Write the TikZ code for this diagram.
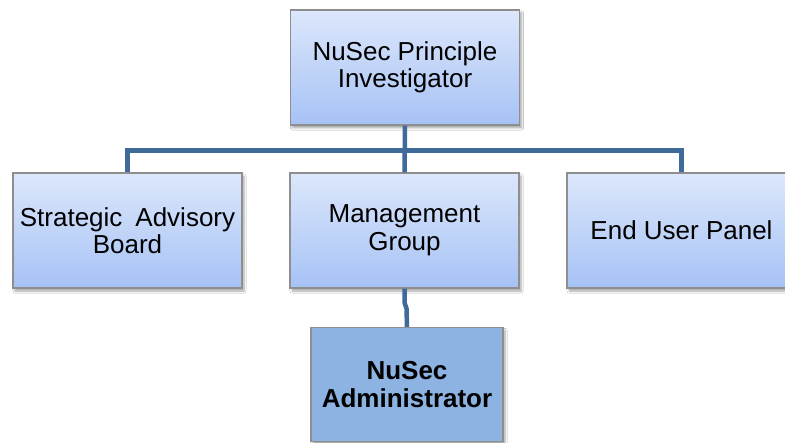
\documentclass[tikz,border=0pt]{standalone}
\usepackage{fontspec}
\setmainfont{Liberation Sans}
\usetikzlibrary{shadows.blur}
\definecolor{boxtop}{HTML}{DCE7FB}
\definecolor{boxbottom}{HTML}{A6C2F5}
\definecolor{boxedge}{HTML}{8E8E8E}
\definecolor{adminfill}{HTML}{8DB3E2}
\definecolor{linkblue}{HTML}{3F6A9A}
\begin{document}
\begin{tikzpicture}[x=1pt,y=1pt,
  orgbox/.style={draw=boxedge, line width=1.2pt, top color=boxtop, bottom color=boxbottom,
    minimum width=229pt, minimum height=115pt, inner sep=0pt, align=center,
    font=\fontsize{26}{27.5}\selectfont,
    blur shadow={shadow xshift=2pt, shadow yshift=-3pt, shadow blur steps=6, shadow opacity=35}},
  adminbox/.style={orgbox, top color=adminfill, bottom color=adminfill,
    minimum width=192pt, minimum height=114pt, font=\fontsize{26}{27.5}\selectfont\bfseries},
  link/.style={draw=linkblue, line width=4.5pt, line join=miter}]
\clip (0,0) rectangle (785,-443);
\fill[white] (0,0) rectangle (785,-443);

\node[orgbox] (pi)  at (405,-67.5)   {NuSec Principle\\Investigator};
\node[orgbox] (sab) at (127.5,-230.5) {Strategic\hspace{13pt}Advisory\\Board};
\node[orgbox] (mg)  at (404.5,-230.5) {Management\\Group};
\node[orgbox] (eup) at (681.5,-230.5) {End User Panel};
\node[adminbox] (adm) at (407,-384.5) {NuSec\\Administrator};

% reporting lines
\draw[link] (sab.north) -- ++(0,22) -| (eup.north);
\draw[link] (pi.south) -- (mg.north);
\draw[link] (mg.south) -- ++(0,-14) -- ++(2,-6) -- (adm.north);
\end{tikzpicture}
\end{document}
